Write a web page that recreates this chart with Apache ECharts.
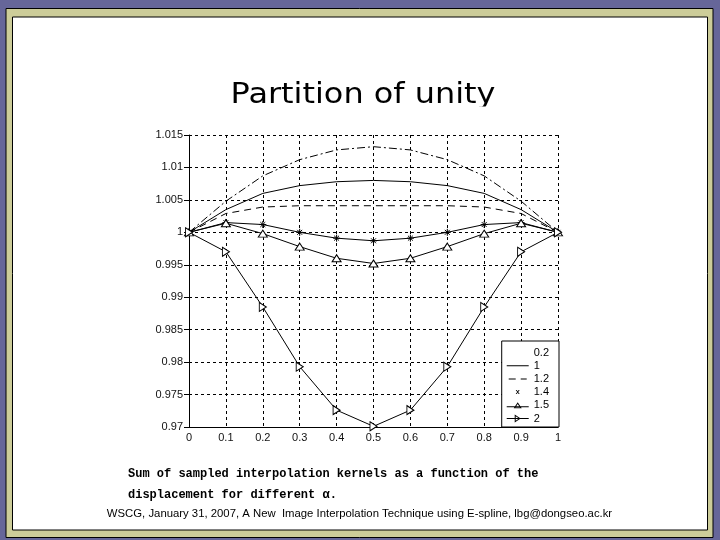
<!DOCTYPE html>
<html>
<head>
<meta charset="utf-8">
<script src="https://cdn.jsdelivr.net/npm/echarts@6/dist/echarts.min.js"></script>
<style>
html,body{margin:0;padding:0;background:#666699;}
#chart{width:720px;height:540px;}
</style>
</head>
<body>
<div id="chart"></div>
<script>
// ---- data ----
var displacement = [0, 0.1, 0.2, 0.3, 0.4, 0.5, 0.6, 0.7, 0.8, 0.9, 1];
var alphaNames = ['0.2', '1', '1.2', '1.4', '1.5', '2'];
var sumAlpha02 = [1, 1.0048, 1.0087, 1.0112, 1.0127, 1.0132, 1.0127, 1.0112, 1.0087, 1.0048, 1];
var sumAlpha1  = [1, 1.0035, 1.0060, 1.0072, 1.0078, 1.0080, 1.0078, 1.0072, 1.0060, 1.0035, 1];
var sumAlpha12 = [1, 1.0029, 1.0039, 1.0041, 1.0041, 1.0041, 1.0041, 1.0041, 1.0039, 1.0029, 1];
var sumAlpha14 = [1, 1.0015, 1.0012, 1.0000, 0.9991, 0.9987, 0.9991, 1.0000, 1.0012, 1.0015, 1];
var sumAlpha15 = [1, 1.0014, 0.9998, 0.9978, 0.9960, 0.9952, 0.9960, 0.9978, 0.9998, 1.0014, 1];
var sumAlpha2  = [1, 0.9970, 0.9885, 0.9793, 0.9726, 0.9701, 0.9726, 0.9793, 0.9885, 0.9970, 1];
var titleText = 'Partition of unity';
var captionLine1 = 'Sum of sampled interpolation kernels as a function of the';
var captionLine2 = 'displacement for different \u03b1.';
var footerText = 'WSCG, January 31, 2007, A New  Image Interpolation Technique using E-spline, lbg@dongseo.ac.kr';

function pairs(vals) {
  return displacement.map(function (x, i) { return [x, vals[i]]; });
}

var chart = echarts.init(document.getElementById('chart'), null, {renderer: 'canvas'});
var black = '#000';
var starPath = 'path://M5,0L5,10M0,5L10,5M1.5,1.5L8.5,8.5M8.5,1.5L1.5,8.5';
var rightTri = 'path://M0,0L10,5L0,10Z';

// legend icons drawn in a 22 x 9 box (tiny corner specks fix the box)
var box = 'M0,0L0.01,0L0,0.01Z M22,9L21.99,9L22,8.99Z ';
var iconNone = 'path://' + box;
var iconSolid = 'path://' + box + 'M0,4L22,4L22,5L0,5Z';
var iconDash = 'path://' + box + 'M2,4L9,4L9,5L2,5Z M14,4L20,4L20,5L14,5Z';
var iconX = 'path://' + box + 'M9,2.5L10,2.5L13,6.5L12,6.5Z M12,2.5L13,2.5L10,6.5L9,6.5Z';
var iconUpTri = 'path://' + box + 'M0,5.5L22,5.5L22,6.5L0,6.5Z M11,1.5L15,7.5L7,7.5Z M11,3.3L8.7,6.6L13.3,6.6Z';
var iconRightTri = 'path://' + box + 'M0,4L22,4L22,5L0,5Z M8,0.5L14,4.5L8,8.5Z M9,2.2L9,6.8L12.3,4.5Z';
var legendIcons = [iconNone, iconSolid, iconDash, iconX, iconUpTri, iconRightTri];

var option = {
  animation: false,
  backgroundColor: '#666699',
  graphic: [
    {type: 'rect', shape: {x: 6, y: 8.5, width: 707, height: 529}, style: {fill: '#cccc99', stroke: '#000', lineWidth: 1}, z: -10},
    {type: 'rect', shape: {x: 12.5, y: 17, width: 695, height: 513}, style: {fill: '#ffffff', stroke: '#000', lineWidth: 1}, z: -9},
    {type: 'text', x: 363, y: 96, scaleX: 1.12, style: {text: titleText, font: '28.5px "DejaVu Sans", Verdana, sans-serif', fill: '#000', align: 'center', verticalAlign: 'middle'}},
    {type: 'rect', shape: {x: 220, y: 106.5, width: 290, height: 6}, style: {fill: '#ffffff'}},
    {type: 'text', x: 128, y: 474, style: {text: captionLine1, font: 'bold 12px "Liberation Mono", "Courier New", monospace', fill: '#000', align: 'left', verticalAlign: 'middle'}},
    {type: 'text', x: 128, y: 495, style: {text: captionLine2, font: 'bold 12px "Liberation Mono", "Courier New", monospace', fill: '#000', align: 'left', verticalAlign: 'middle'}},
    {type: 'text', x: 359.5, y: 514, scaleX: 1.03, style: {text: footerText, font: '11px "Liberation Sans", Arial, sans-serif', fill: '#000', align: 'center', verticalAlign: 'middle'}}
  ],
  grid: {left: 189, right: 162, top: 135, bottom: 113, containLabel: false},
  xAxis: {
    type: 'value', min: 0, max: 1, interval: 0.1,
    axisLine: {show: true, lineStyle: {color: black, width: 1}},
    axisTick: {show: false},
    axisLabel: {color: '#111', fontSize: 11, fontFamily: 'Liberation Sans', margin: 5},
    splitLine: {show: true, lineStyle: {color: black, type: [3, 3], width: 1}}
  },
  yAxis: {
    type: 'value', min: 0.97, max: 1.015, interval: 0.005,
    axisLine: {show: true, lineStyle: {color: black, width: 1}},
    axisTick: {show: true, length: 5, lineStyle: {color: black}},
    axisLabel: {color: '#111', fontSize: 11, fontFamily: 'Liberation Sans', margin: 6},
    splitLine: {show: true, lineStyle: {color: black, type: [3, 3], width: 1}}
  },
  legend: {
    orient: 'vertical', right: 161, bottom: 113,
    backgroundColor: '#fff', borderColor: '#000', borderWidth: 1,
    padding: [6, 10, 3, 5], itemWidth: 22, itemHeight: 9, itemGap: 2.2,
    symbolKeepAspect: true,
    textStyle: {fontSize: 11, color: '#000', fontFamily: 'Liberation Sans'},
    data: alphaNames.map(function (n, i) {
      return {name: n, icon: legendIcons[i], itemStyle: {color: '#000', borderWidth: 0, borderColor: 'none', opacity: 1}};
    })
  },
  series: [
    {name: alphaNames[0], type: 'line', data: pairs(sumAlpha02), showSymbol: false, symbol: 'none',
      lineStyle: {color: black, width: 1, type: [8, 3, 2, 3]}, itemStyle: {color: black}},
    {name: alphaNames[1], type: 'line', data: pairs(sumAlpha1), showSymbol: false, symbol: 'none',
      lineStyle: {color: black, width: 1, type: 'solid'}, itemStyle: {color: black}},
    {name: alphaNames[2], type: 'line', data: pairs(sumAlpha12), showSymbol: false, symbol: 'none',
      lineStyle: {color: black, width: 1, type: [7, 5]}, itemStyle: {color: black}},
    {name: alphaNames[3], type: 'line', data: pairs(sumAlpha14), symbol: starPath, symbolSize: 7,
      lineStyle: {color: black, width: 1}, itemStyle: {color: 'rgba(0,0,0,0)', borderColor: black, borderWidth: 1}},
    {name: alphaNames[4], type: 'line', data: pairs(sumAlpha15), symbol: 'triangle', symbolSize: [9, 7],
      lineStyle: {color: black, width: 1}, itemStyle: {color: '#fff', borderColor: black, borderWidth: 1}},
    {name: alphaNames[5], type: 'line', data: pairs(sumAlpha2), symbol: rightTri, symbolSize: [7, 9],
      lineStyle: {color: black, width: 1}, itemStyle: {color: '#fff', borderColor: black, borderWidth: 1}}
  ]
};
chart.setOption(option);
</script>
</body>
</html>
